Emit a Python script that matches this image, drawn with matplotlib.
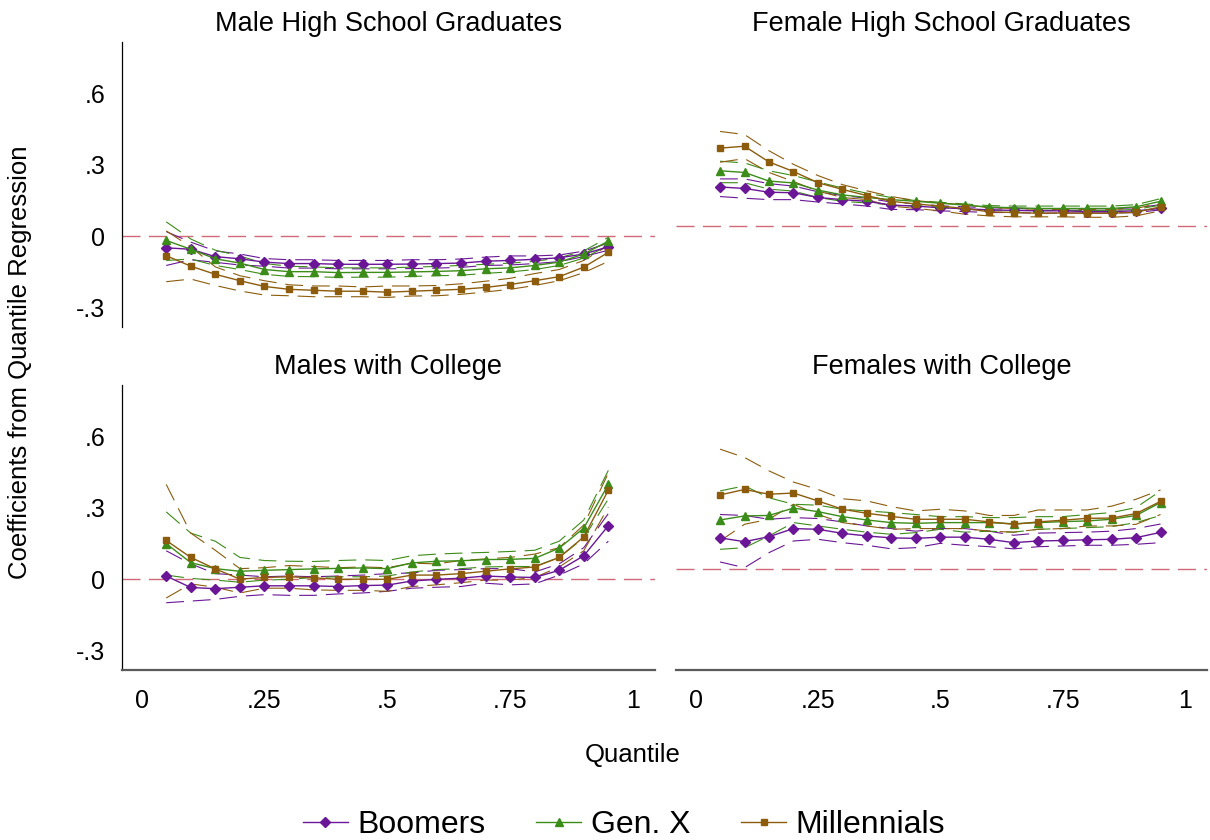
"""
Quantile regression coefficients by generation (2x2 panels)
  - out.png
"""

import matplotlib
matplotlib.use("Agg")
import matplotlib.pyplot as plt
from matplotlib.lines import Line2D

# ─────────────────────────────────────────────────────────────
# data
# ─────────────────────────────────────────────────────────────
quantiles = [0.05, 0.10, 0.15, 0.20, 0.25, 0.30, 0.35, 0.40, 0.45, 0.50,
             0.55, 0.60, 0.65, 0.70, 0.75, 0.80, 0.85, 0.90, 0.95]

groups = ["Boomers", "Gen. X", "Millennials"]
panel_titles = ["Male High School Graduates", "Female High School Graduates",
                "Males with College", "Females with College"]

# Male High School Graduates
mhs_boom    = [-0.048, -0.054, -0.085, -0.094, -0.108, -0.114, -0.114, -0.117, -0.117, -0.117,
               -0.116, -0.114, -0.112, -0.104, -0.101, -0.096, -0.090, -0.074, -0.044]
mhs_boom_lo = [-0.122, -0.098, -0.109, -0.120, -0.125, -0.133, -0.133, -0.136, -0.136, -0.136,
               -0.135, -0.133, -0.130, -0.122, -0.120, -0.114, -0.106, -0.085, -0.058]
mhs_boom_hi = [0.020, -0.024, -0.061, -0.074, -0.093, -0.098, -0.098, -0.101, -0.101, -0.101,
               -0.098, -0.098, -0.095, -0.087, -0.082, -0.082, -0.078, -0.062, -0.028]
mhs_genx    = [-0.017, -0.054, -0.094, -0.112, -0.139, -0.148, -0.148, -0.152, -0.151, -0.151,
               -0.149, -0.147, -0.144, -0.136, -0.132, -0.122, -0.108, -0.074, -0.020]
mhs_genx_lo = [-0.101, -0.095, -0.122, -0.139, -0.159, -0.168, -0.169, -0.172, -0.171, -0.171,
               -0.168, -0.165, -0.163, -0.155, -0.149, -0.139, -0.122, -0.091, -0.038]
mhs_genx_hi = [0.061, -0.011, -0.058, -0.082, -0.114, -0.125, -0.128, -0.132, -0.132, -0.132,
               -0.129, -0.126, -0.122, -0.117, -0.112, -0.105, -0.090, -0.061, -0.004]
mhs_mill    = [-0.081, -0.125, -0.159, -0.186, -0.210, -0.222, -0.226, -0.230, -0.230, -0.234,
               -0.230, -0.226, -0.222, -0.214, -0.202, -0.186, -0.169, -0.129, -0.067]
mhs_mill_lo = [-0.190, -0.179, -0.206, -0.229, -0.246, -0.249, -0.253, -0.253, -0.253, -0.256,
               -0.250, -0.249, -0.243, -0.233, -0.222, -0.206, -0.186, -0.152, -0.105]
mhs_mill_hi = [0.023, -0.044, -0.128, -0.165, -0.186, -0.203, -0.208, -0.208, -0.212, -0.208,
               -0.208, -0.206, -0.199, -0.188, -0.176, -0.156, -0.139, -0.101, -0.038]

# Female High School Graduates
fhs_boom    = [0.165, 0.159, 0.143, 0.141, 0.121, 0.112, 0.105, 0.089, 0.085, 0.078,
               0.074, 0.069, 0.067, 0.065, 0.065, 0.062, 0.062, 0.065, 0.075]
fhs_boom_lo = [0.125, 0.118, 0.112, 0.112, 0.102, 0.094, 0.085, 0.071, 0.070, 0.065,
               0.062, 0.058, 0.058, 0.055, 0.056, 0.056, 0.056, 0.058, 0.069]
fhs_boom_hi = [0.199, 0.199, 0.179, 0.169, 0.145, 0.129, 0.118, 0.102, 0.094, 0.086,
               0.082, 0.078, 0.075, 0.074, 0.074, 0.074, 0.074, 0.078, 0.091]
fhs_genx    = [0.233, 0.226, 0.190, 0.182, 0.152, 0.132, 0.121, 0.112, 0.105, 0.097,
               0.089, 0.081, 0.078, 0.075, 0.075, 0.075, 0.075, 0.082, 0.105]
fhs_genx_lo = [0.183, 0.183, 0.156, 0.148, 0.121, 0.105, 0.098, 0.091, 0.085, 0.081,
               0.071, 0.069, 0.067, 0.067, 0.067, 0.067, 0.067, 0.071, 0.089]
fhs_genx_hi = [0.273, 0.266, 0.233, 0.213, 0.186, 0.161, 0.139, 0.121, 0.108, 0.101,
               0.094, 0.087, 0.085, 0.085, 0.085, 0.085, 0.085, 0.091, 0.116]
fhs_mill    = [0.328, 0.336, 0.270, 0.230, 0.183, 0.155, 0.129, 0.105, 0.094, 0.085,
               0.075, 0.061, 0.058, 0.055, 0.056, 0.055, 0.055, 0.059, 0.082]
fhs_mill_lo = [0.269, 0.284, 0.226, 0.188, 0.148, 0.121, 0.112, 0.085, 0.075, 0.065,
               0.051, 0.044, 0.040, 0.040, 0.040, 0.038, 0.038, 0.044, 0.065]
fhs_mill_hi = [0.398, 0.385, 0.317, 0.260, 0.213, 0.175, 0.149, 0.125, 0.108, 0.098,
               0.091, 0.078, 0.075, 0.071, 0.071, 0.071, 0.071, 0.075, 0.098]

# Males with College
mcol_boom    = [0.014, -0.034, -0.039, -0.033, -0.027, -0.027, -0.027, -0.030, -0.026, -0.024,
                -0.007, 0.000, 0.005, 0.014, 0.010, 0.008, 0.038, 0.099, 0.225]
mcol_boom_lo = [-0.098, -0.091, -0.084, -0.071, -0.064, -0.067, -0.067, -0.061, -0.057, -0.050,
                -0.037, -0.033, -0.030, -0.016, -0.023, -0.019, 0.018, 0.065, 0.160]
mcol_boom_hi = [0.120, 0.065, 0.024, 0.018, 0.011, 0.014, 0.011, 0.014, 0.018, 0.024,
                0.027, 0.038, 0.041, 0.045, 0.045, 0.031, 0.065, 0.133, 0.276]
mcol_genx    = [0.150, 0.070, 0.045, 0.034, 0.038, 0.041, 0.044, 0.046, 0.048, 0.045,
                0.069, 0.076, 0.078, 0.083, 0.084, 0.088, 0.131, 0.215, 0.398]
mcol_genx_lo = [0.018, 0.004, -0.003, -0.012, -0.003, 0.000, 0.008, 0.011, 0.011, 0.014,
                0.031, 0.041, 0.045, 0.052, 0.054, 0.054, 0.092, 0.174, 0.337]
mcol_genx_hi = [0.283, 0.194, 0.160, 0.092, 0.079, 0.076, 0.075, 0.079, 0.082, 0.079,
                0.099, 0.106, 0.110, 0.113, 0.117, 0.122, 0.160, 0.249, 0.457]
mcol_mill    = [0.163, 0.092, 0.044, 0.001, 0.008, 0.011, 0.007, 0.000, 0.001, 0.000,
                0.018, 0.018, 0.024, 0.034, 0.044, 0.052, 0.092, 0.178, 0.374]
mcol_mill_lo = [-0.078, -0.019, -0.033, -0.057, -0.037, -0.037, -0.044, -0.046, -0.046, -0.050,
                -0.030, -0.023, -0.014, -0.003, -0.003, 0.008, 0.052, 0.120, 0.303]
mcol_mill_hi = [0.398, 0.194, 0.122, 0.045, 0.049, 0.058, 0.054, 0.049, 0.052, 0.049,
                0.068, 0.065, 0.079, 0.086, 0.092, 0.106, 0.133, 0.228, 0.446]

# Females with College
fcol_boom    = [0.132, 0.116, 0.137, 0.171, 0.168, 0.151, 0.140, 0.132, 0.130, 0.135,
                0.135, 0.126, 0.112, 0.119, 0.121, 0.124, 0.126, 0.133, 0.155]
fcol_boom_lo = [0.031, 0.007, 0.070, 0.119, 0.126, 0.112, 0.101, 0.086, 0.091, 0.109,
                0.101, 0.095, 0.086, 0.095, 0.098, 0.101, 0.101, 0.105, 0.112]
fcol_boom_hi = [0.230, 0.226, 0.210, 0.217, 0.213, 0.199, 0.182, 0.171, 0.160, 0.171,
                0.171, 0.160, 0.143, 0.152, 0.154, 0.156, 0.160, 0.171, 0.190]
fcol_genx    = [0.207, 0.224, 0.226, 0.257, 0.242, 0.221, 0.207, 0.196, 0.193, 0.196,
                0.196, 0.196, 0.191, 0.196, 0.200, 0.203, 0.210, 0.226, 0.280]
fcol_genx_lo = [0.084, 0.091, 0.140, 0.196, 0.182, 0.168, 0.156, 0.147, 0.154, 0.168,
                0.156, 0.160, 0.156, 0.168, 0.171, 0.175, 0.179, 0.196, 0.226]
fcol_genx_hi = [0.329, 0.350, 0.300, 0.273, 0.269, 0.252, 0.245, 0.238, 0.230, 0.221,
                0.221, 0.217, 0.217, 0.221, 0.221, 0.230, 0.238, 0.259, 0.329]
fcol_mill    = [0.312, 0.335, 0.315, 0.320, 0.287, 0.252, 0.235, 0.222, 0.210, 0.210,
                0.210, 0.199, 0.189, 0.199, 0.206, 0.214, 0.215, 0.234, 0.285]
fcol_mill_lo = [0.119, 0.189, 0.210, 0.273, 0.230, 0.196, 0.182, 0.168, 0.171, 0.171,
                0.171, 0.160, 0.156, 0.168, 0.171, 0.182, 0.182, 0.189, 0.230]
fcol_mill_hi = [0.504, 0.469, 0.413, 0.366, 0.335, 0.296, 0.287, 0.263, 0.245, 0.252,
                0.245, 0.226, 0.226, 0.249, 0.249, 0.249, 0.265, 0.294, 0.333]

panels = [
    [(mhs_boom, mhs_boom_lo, mhs_boom_hi), (mhs_genx, mhs_genx_lo, mhs_genx_hi),
     (mhs_mill, mhs_mill_lo, mhs_mill_hi)],
    [(fhs_boom, fhs_boom_lo, fhs_boom_hi), (fhs_genx, fhs_genx_lo, fhs_genx_hi),
     (fhs_mill, fhs_mill_lo, fhs_mill_hi)],
    [(mcol_boom, mcol_boom_lo, mcol_boom_hi), (mcol_genx, mcol_genx_lo, mcol_genx_hi),
     (mcol_mill, mcol_mill_lo, mcol_mill_hi)],
    [(fcol_boom, fcol_boom_lo, fcol_boom_hi), (fcol_genx, fcol_genx_lo, fcol_genx_hi),
     (fcol_mill, fcol_mill_lo, fcol_mill_hi)],
]

y_ticks = [-0.3, 0, 0.3, 0.6]
y_ticklabels = ["-.3", "0", ".3", ".6"]
x_ticks = [0, 0.25, 0.5, 0.75, 1]
x_ticklabels = ["0", ".25", ".5", ".75", "1"]

# ─────────────────────────────────────────────────────────────
# style
# ─────────────────────────────────────────────────────────────
plt.rcParams["font.family"] = ["Liberation Sans", "DejaVu Sans"]

COLORS = ["#6a1696", "#3b8c18", "#8c5c0c"]
MARKERS = ["D", "^", "s"]
MSIZES = [4.6, 5.6, 4.8]
REF_COLOR = "#d06a78"

# axes rectangles in pixels (left, top, right, bottom) on a 1210x840 canvas
W, H = 1210, 840
boxes = [(122, 42, 655, 327), (676, 42, 1207, 327),
         (122, 385, 655, 670), (676, 385, 1207, 670)]
# right-hand panels sit a little lower than the left ones
y_shift = [0.0, 0.042, 0.0, 0.042]

fig = plt.figure(figsize=(W / 100, H / 100), dpi=100)

for i, (box, series) in enumerate(zip(boxes, panels)):
    l, t, r, b = box
    ax = fig.add_axes([l / W, 1 - b / H, (r - l) / W, (b - t) / H])

    ax.axhline(0, color=REF_COLOR, lw=1.0, ls=(0, (13, 6)), zorder=1)

    for k, (est, lo, hi) in enumerate(series):
        c = COLORS[k]
        ax.plot(quantiles, lo, color=c, lw=0.8, ls=(0, (16, 8)), zorder=2)
        ax.plot(quantiles, hi, color=c, lw=0.8, ls=(0, (16, 8)), zorder=2)
        ax.plot(quantiles, est, color=c, lw=1.0, marker=MARKERS[k],
                ms=MSIZES[k], mec=c, mfc=c, zorder=3 + k)

    ax.set_xlim(-0.04, 1.045)
    ax.set_ylim(-0.38 - y_shift[i], 0.815 - y_shift[i])
    ax.set_title(panel_titles[i], fontsize=19.5, pad=8)

    for s in ["top", "right"]:
        ax.spines[s].set_visible(False)

    # y axis only on the left column
    if i % 2 == 0:
        ax.spines["left"].set_color("black")
        ax.spines["left"].set_linewidth(0.9)
        ax.set_yticks(y_ticks)
        ax.set_yticklabels(y_ticklabels, fontsize=18)
        ax.tick_params(axis="y", length=0, pad=12)
    else:
        ax.spines["left"].set_visible(False)
        ax.set_yticks([])

    # x axis only on the bottom row
    if i >= 2:
        ax.spines["bottom"].set_color("#5a5a5a")
        ax.spines["bottom"].set_linewidth(1.6)
        ax.set_xticks(x_ticks)
        ax.set_xticklabels(x_ticklabels, fontsize=18)
        ax.tick_params(axis="x", length=0, pad=14)
    else:
        ax.spines["bottom"].set_visible(False)
        ax.set_xticks([])

fig.text(20 / W, 1 - 362 / H, "Coefficients from Quantile Regression",
         rotation=90, ha="center", va="center", fontsize=18.5)
fig.text(633 / W, 1 - 755 / H, "Quantile", ha="center", va="center", fontsize=18.5)

handles = [Line2D([], [], color=COLORS[k], lw=1.0, marker=MARKERS[k],
                  ms=MSIZES[k], mec=COLORS[k], mfc=COLORS[k]) for k in range(3)]
fig.legend(handles, groups, loc="center", bbox_to_anchor=(624 / W, 1 - 825 / H),
           ncol=3, frameon=False, fontsize=23, handlelength=1.4,
           handletextpad=0.3, columnspacing=1.6)

fig.savefig("out.png", dpi=100)
plt.close(fig)
